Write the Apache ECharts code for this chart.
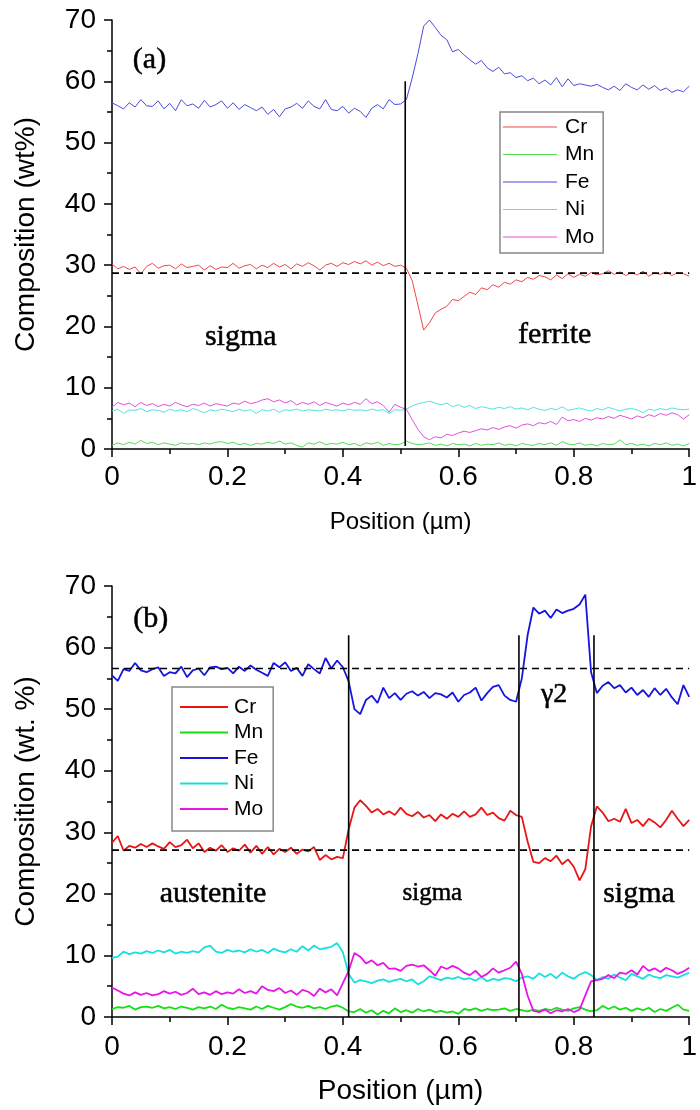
<!DOCTYPE html>
<html>
<head>
<meta charset="utf-8">
<script src="https://cdn.jsdelivr.net/npm/echarts@6/dist/echarts.min.js"></script>
<style>
html,body{margin:0;padding:0;background:#fff;}
#chart{width:700px;height:1110px;}
</style>
</head>
<body>
<div id="chart"></div>
<script>
// ---------- sampling grid (position, µm) ----------
const positions = Array.from({length: 101}, (_, i) => i / 100);
const elements = ['Cr', 'Mn', 'Fe', 'Ni', 'Mo'];
const xTicks = [0, 0.2, 0.4, 0.6, 0.8, 1];
const yTicks = [0, 10, 20, 30, 40, 50, 60, 70];

// ---------- panel (a): sigma / ferrite ----------
const aFe = [56.5,56,55.5,56.5,55.8,57,56,55.9,56.8,55.5,56.4,55.2,57,56,56.3,55.6,56.9,55.8,56.2,56.8,55.6,56.5,55.4,56.2,55.7,55.2,55.8,54.6,55.4,54.2,55.5,55.8,56.4,55.6,56.8,55.9,55.5,57,55.4,55.2,55.9,54.8,55.6,55.1,54.1,55.6,56.2,55.5,57,56.2,56.3,57,60.5,64.5,69,70,68.8,67.5,66.8,64.8,65.2,64.3,63.5,62.8,63.4,62.2,61.6,62.3,61.2,61.4,60.6,60.9,60.1,60.5,59.6,60.2,59.4,60.6,59.1,60.4,59.3,59.6,59.4,59.2,59.5,59.0,58.6,59.2,58.5,59.6,59.0,58.6,59.4,58.7,59.3,58.5,58.9,58.2,58.6,58.3,59.2];
const aCr = [30.2,29.4,29.8,29.3,29.7,28.6,29.8,30.3,29.5,29.9,30.0,29.4,30.2,29.6,29.8,30.0,29.2,29.9,29.3,29.7,29.6,30.3,29.5,29.9,30.1,29.4,30.0,29.6,30.3,29.7,30.1,29.4,30.2,29.8,30.4,29.9,29.2,30.0,30.3,29.8,30.4,30.1,30.6,30.2,30.7,30.0,30.5,29.9,30.3,29.8,30.0,29.5,27.5,23.5,19.4,20.6,22.2,22.8,23.3,24.4,24.2,24.9,25.6,25.2,26.3,26.0,26.8,26.4,27.2,26.9,27.6,27.3,28.0,27.7,28.3,28.1,27.6,28.4,27.8,28.6,28.0,28.5,28.2,28.8,28.4,28.6,29.1,28.5,28.9,28.3,28.8,28.4,29.0,28.2,28.7,28.5,28.9,28.3,28.8,28.6,28.2];
const aMo = [6.8,7.6,7.2,7.5,6.9,7.6,7.1,7.4,6.9,7.3,7.0,7.6,7.2,6.9,7.3,7.1,7.5,7.0,7.4,7.2,7.0,7.5,7.3,7.8,7.4,7.6,8.0,8.2,7.7,8.0,7.5,7.9,7.2,7.6,7.3,7.7,7.1,7.6,7.3,7.0,7.5,7.2,7.6,7.3,8.2,7.4,7.7,7.1,6.0,7.3,6.8,6.5,4.8,3.2,2.0,1.5,2.0,1.8,2.4,2.2,2.6,2.9,2.7,3.0,3.3,3.1,3.5,3.2,3.6,3.8,3.4,3.9,4.1,3.8,4.3,4.1,4.5,4.0,5.2,4.6,4.8,4.5,5.0,4.7,5.1,4.9,5.3,5.0,5.5,5.2,4.9,5.4,5.1,5.6,5.3,5.8,5.5,5.9,5.6,4.9,5.6];
const aNi = [6.2,6.5,5.8,6.4,6.3,6.6,6.1,6.4,6.3,6.0,6.5,6.2,6.4,6.1,6.6,6.3,5.9,6.4,6.2,6.5,6.3,6.1,6.5,6.2,6.4,5.8,6.4,6.2,6.5,6.0,6.4,6.3,6.5,6.2,6.4,6.3,6.2,6.5,6.3,6.4,6.2,6.5,6.3,6.4,6.2,6.5,6.3,6.4,5.8,6.4,6.3,6.5,7.0,7.4,7.6,7.8,7.5,7.2,7.5,6.9,7.2,6.8,7.1,6.6,6.9,6.7,6.5,6.8,6.6,6.9,6.5,6.7,6.4,6.8,6.5,6.3,6.6,6.4,6.9,6.3,6.5,6.7,6.4,6.2,6.6,6.4,6.8,6.5,6.2,6.5,6.6,6.4,5.9,6.5,6.3,6.6,6.4,6.7,6.5,6.4,6.5];
const aMn = [0.6,1.0,0.7,1.1,0.8,1.4,0.9,1.1,0.7,1.0,0.8,0.6,1.0,0.8,0.9,0.7,1.0,0.8,1.1,1.2,0.9,1.1,0.7,0.9,0.6,0.9,0.8,1.1,0.9,1.3,0.8,1.0,0.6,0.3,1.0,0.8,1.2,0.7,0.9,0.8,1.1,0.7,0.9,0.5,1.0,0.8,1.1,0.6,0.9,0.7,0.8,1.3,0.9,0.7,0.8,1.0,0.6,0.8,0.5,0.9,0.7,0.8,0.5,0.9,0.6,0.8,0.7,1.0,0.6,0.8,0.5,0.9,0.7,0.6,0.9,0.7,1.0,0.6,1.2,0.8,0.7,1.0,0.6,0.8,0.5,0.9,0.7,0.8,1.5,0.7,0.9,0.6,0.8,0.5,0.9,0.7,1.0,0.6,0.8,0.5,0.9];
const aBoundaries = [0.508];
const aBoundaryRange = [0.5, 60];
const aReference = [28.7];

// ---------- panel (b): austenite / sigma / gamma2 / sigma ----------
const bFe = [55.5,54.6,56.5,56.2,57.5,56.3,56.0,56.5,56.8,55.4,56.0,55.8,56.9,55.2,56.3,56.6,55.5,56.8,56.9,56.5,56.7,55.8,56.9,56.2,57.1,56.4,55.9,55.4,57.5,56.8,57.6,56.2,56.7,55.4,57.3,56.5,55.8,58.3,56.6,57.9,56.8,54.5,50.0,49.2,51.5,52.2,51.0,53.5,51.8,52.6,51.5,52.5,52.9,52.2,52.8,51.8,52.6,52.4,51.9,52.7,51.2,52.3,52.7,53.5,51.4,52.6,53.6,53.9,52.2,51.5,51.2,55.0,62.0,66.5,65.5,66.0,64.8,66.2,65.6,66.0,66.3,67.0,68.6,56.0,52.6,53.8,54.4,53.4,53.9,52.7,53.5,52.3,53.1,52.0,53.4,52.3,53.3,51.9,50.8,53.9,52.0];
const bCr = [28.3,29.4,27.0,27.8,27.5,28.1,27.6,28.2,27.7,27.3,28.4,27.6,27.9,28.8,27.4,28.2,26.8,27.5,27.0,27.9,26.8,27.4,27.0,28.0,26.7,27.8,26.5,27.6,26.4,27.3,26.8,27.5,26.5,27.2,26.9,27.6,25.5,26.3,25.6,26.0,25.8,30.5,34.0,35.2,34.3,33.2,33.8,32.9,33.4,32.8,34.0,33.0,32.6,33.3,32.4,32.8,31.8,32.9,32.2,33.0,32.5,33.4,32.5,32.9,34.0,32.8,33.2,32.3,31.9,33.5,32.8,32.5,28.5,25.2,25.0,25.8,25.3,26.2,24.8,25.6,24.4,22.2,24.0,31.0,34.2,33.2,31.8,32.2,31.7,33.8,31.5,32.0,31.0,32.2,31.6,30.8,32.0,33.5,32.2,31.0,32.0];
const bNi = [9.6,9.8,10.6,10.2,10.5,10.3,10.7,10.4,10.8,10.5,10.9,10.3,10.6,10.4,10.7,10.5,11.3,11.6,10.6,10.4,10.9,10.6,10.8,10.5,11.0,10.6,10.9,10.4,11.1,10.7,10.5,11.0,10.6,11.5,10.8,11.6,11.0,11.2,11.4,12.0,10.5,7.0,5.6,6.0,5.8,5.5,5.9,6.1,5.7,6.0,6.2,5.8,6.1,5.3,5.8,6.6,6.3,6.0,6.4,6.2,6.5,6.1,6.3,5.9,6.5,5.8,6.2,6.0,6.3,6.2,5.8,6.4,6.6,6.2,7.1,6.5,7.0,6.3,7.2,6.6,6.2,6.9,7.3,6.8,6.0,6.5,6.2,6.9,6.4,6.0,7.0,6.6,6.2,6.9,6.5,6.3,6.8,6.6,6.4,6.8,7.2];
const bMo = [4.8,4.3,3.8,3.5,4.0,3.6,3.9,3.5,3.7,4.2,3.8,4.1,3.6,3.9,4.6,3.7,4.0,3.6,4.2,3.7,4.0,3.8,4.5,3.9,4.2,3.8,5.0,4.4,4.2,4.7,3.9,4.3,3.6,4.4,4.1,3.4,4.6,4.0,4.5,3.5,5.5,7.5,10.4,9.8,8.7,9.2,8.4,8.8,7.8,7.9,7.5,8.3,8.5,8.2,8.4,7.6,6.7,8.2,7.8,8.3,7.9,7.2,6.8,7.5,6.5,7.0,7.9,7.2,7.6,8.0,9.0,7.0,3.5,1.0,0.8,1.2,0.6,1.1,0.9,1.3,0.8,1.2,3.5,5.8,6.0,6.2,6.8,6.3,7.2,7.0,7.6,6.9,8.3,7.5,7.9,7.3,8.0,7.6,7.0,7.4,8.0];
const bMn = [1.3,1.6,1.5,1.8,1.2,1.6,1.7,1.5,1.8,1.4,1.6,1.3,1.7,1.5,1.2,1.6,1.4,1.7,1.3,2.0,1.5,1.3,1.6,1.4,1.2,1.7,1.3,1.8,1.5,1.2,1.6,2.1,1.7,1.5,1.8,1.4,1.6,1.3,1.7,1.9,1.5,0.9,0.8,1.3,0.7,1.1,0.4,1.0,0.6,1.4,0.8,1.1,0.7,1.3,0.9,1.2,0.8,1.0,0.7,0.9,0.5,1.3,1.1,1.4,1.0,1.3,1.1,1.2,1.4,1.0,1.3,1.1,0.9,1.2,1.0,1.3,1.1,1.5,1.2,1.0,1.4,1.6,1.2,0.9,1.1,1.8,1.3,1.7,1.2,1.5,1.0,1.4,1.1,1.5,0.8,1.3,1.0,1.5,2.0,1.2,1.0];
const bBoundaries = [0.41, 0.705, 0.835];
const bBoundaryRange = [0, 62];
const bReference = [56.6, 27.1];

// ---------- annotations (text, position, value) ----------
const aLabels = [
  {text: '(a)', x: 0.065, y: 63.5, size: 30},
  {text: 'sigma', x: 0.223, y: 18.3, size: 30},
  {text: 'ferrite', x: 0.767, y: 18.6, size: 30}
];
const bLabels = [
  {text: '(b)', x: 0.067, y: 64.6, size: 30},
  {text: 'austenite', x: 0.175, y: 20, size: 30},
  {text: 'sigma', x: 0.555, y: 20, size: 25},
  {text: 'sigma', x: 0.913, y: 20, size: 30},
  {text: 'γ2', x: 0.766, y: 52.3, size: 28}
];

const aColors = {Cr: '#f04848', Mn: '#55dd55', Fe: '#4a4ae0', Ni: '#50e4e4', Mo: '#e050e0'};
const bColors = {Cr: '#e81515', Mn: '#15e015', Fe: '#1515e0', Ni: '#15e0e0', Mo: '#e815e8'};
const aData = {Cr: aCr, Mn: aMn, Fe: aFe, Ni: aNi, Mo: aMo};
const bData = {Cr: bCr, Mn: bMn, Fe: bFe, Ni: bNi, Mo: bMo};

const sans = 'Liberation Sans, Arial, sans-serif';
const serif = 'Liberation Serif, Times New Roman, serif';

function xAxis(idx, labelMargin, nameSize, nameGap) {
  return {
    type: 'value', gridIndex: idx, min: 0, max: 1, interval: 0.2,
    name: 'Position (µm)', nameLocation: 'middle', nameGap: nameGap,
    nameTextStyle: {fontFamily: sans, fontSize: nameSize, color: '#000'},
    axisLine: {show: true, lineStyle: {color: '#000', width: 1.5}},
    axisTick: {show: true, length: 8, lineStyle: {color: '#000', width: 1.5}},
    minorTick: {show: true, splitNumber: 2, length: 5, lineStyle: {color: '#000', width: 1.5}},
    splitLine: {show: false},
    axisLabel: {fontFamily: sans, fontSize: 28, color: '#000', margin: labelMargin,
      formatter: v => String(v)}
  };
}
function yAxis(idx, title) {
  return {
    type: 'value', gridIndex: idx, min: 0, max: 70, interval: 10,
    name: title, nameLocation: 'middle', nameGap: 72,
    nameTextStyle: {fontFamily: sans, fontSize: 28, color: '#000'},
    axisLine: {show: true, lineStyle: {color: '#000', width: 1.5}},
    axisTick: {show: true, length: 8, lineStyle: {color: '#000', width: 1.5}},
    minorTick: {show: true, splitNumber: 2, length: 5, lineStyle: {color: '#000', width: 1.5}},
    splitLine: {show: false},
    axisLabel: {fontFamily: sans, fontSize: 28, color: '#000', margin: 16}
  };
}

const series = [];
function addPanel(idx, prefix, data, colors, width, boundaries, bRange, refs, labels) {
  elements.forEach(el => {
    series.push({
      type: 'line', name: prefix + el, xAxisIndex: idx, yAxisIndex: idx,
      symbol: 'none', showSymbol: false, smooth: false,
      lineStyle: {color: colors[el], width: width}, itemStyle: {color: colors[el]},
      data: positions.map((p, i) => [p, data[el][i]]), z: 3
    });
  });
  refs.forEach(r => {
    series.push({
      type: 'line', xAxisIndex: idx, yAxisIndex: idx, symbol: 'none', silent: true,
      lineStyle: {color: '#000', width: 1.6, type: [7, 5]}, z: 4,
      data: [[0, r], [1, r]]
    });
  });
  boundaries.forEach(b => {
    series.push({
      type: 'line', xAxisIndex: idx, yAxisIndex: idx, symbol: 'none', silent: true,
      lineStyle: {color: '#000', width: 1.6}, z: 4,
      data: [[b, bRange[0]], [b, bRange[1]]]
    });
  });
  series.push({
    type: 'scatter', xAxisIndex: idx, yAxisIndex: idx, symbol: 'circle', symbolSize: 1,
    silent: true, z: 5, itemStyle: {color: '#fff', opacity: 1},
    data: labels.map(l => ({
      value: [l.x, l.y], name: l.text,
      label: {show: true, position: 'inside', formatter: '{b}', fontFamily: serif,
        fontSize: l.size, color: '#000', opacity: 1,
        textBorderColor: '#000', textBorderWidth: 0.5}
    }))
  });
}
addPanel(0, 'a-', aData, aColors, 1, aBoundaries, aBoundaryRange, aReference, aLabels);
addPanel(1, 'b-', bData, bColors, 1.8, bBoundaries, bBoundaryRange, bReference, bLabels);

const chart = echarts.init(document.getElementById('chart'), null, {renderer: 'canvas'});
chart.setOption({
  animation: false,
  backgroundColor: '#fff',
  grid: [
    {left: 112, top: 20, width: 583, height: 429},
    {left: 112, top: 586, width: 583, height: 431}
  ],
  xAxis: [xAxis(0, 14, 24, 61), xAxis(1, 16, 28, 60)],
  yAxis: [yAxis(0, 'Composition (wt%)'), yAxis(1, 'Composition (wt. %)')],
  legend: [
    {
      orient: 'vertical', left: 500, top: 112,
      data: elements.map(e => ({name: 'a-' + e, icon: 'rect', itemStyle: {color: aColors[e]}})),
      formatter: n => n.slice(2), itemWidth: 54, itemHeight: 1.2, itemGap: 6.5,
      padding: [4.5, 9, 5.5, 3], borderColor: '#888', borderWidth: 1.5, backgroundColor: '#fff',
      textStyle: {fontFamily: sans, fontSize: 21, color: '#000', padding: [0, 0, 0, 3]},
      selectedMode: false
    },
    {
      orient: 'vertical', left: 172, top: 687,
      data: elements.map(e => ({name: 'b-' + e, icon: 'rect', itemStyle: {color: bColors[e]}})),
      formatter: n => n.slice(2), itemWidth: 48, itemHeight: 2, itemGap: 4.5,
      padding: [9.5, 10, 11.5, 8], borderColor: '#888', borderWidth: 1.5, backgroundColor: '#fff',
      textStyle: {fontFamily: sans, fontSize: 21, color: '#000', padding: [0, 0, 0, 1]},
      selectedMode: false
    }
  ],
  series: series
});
</script>
</body>
</html>
